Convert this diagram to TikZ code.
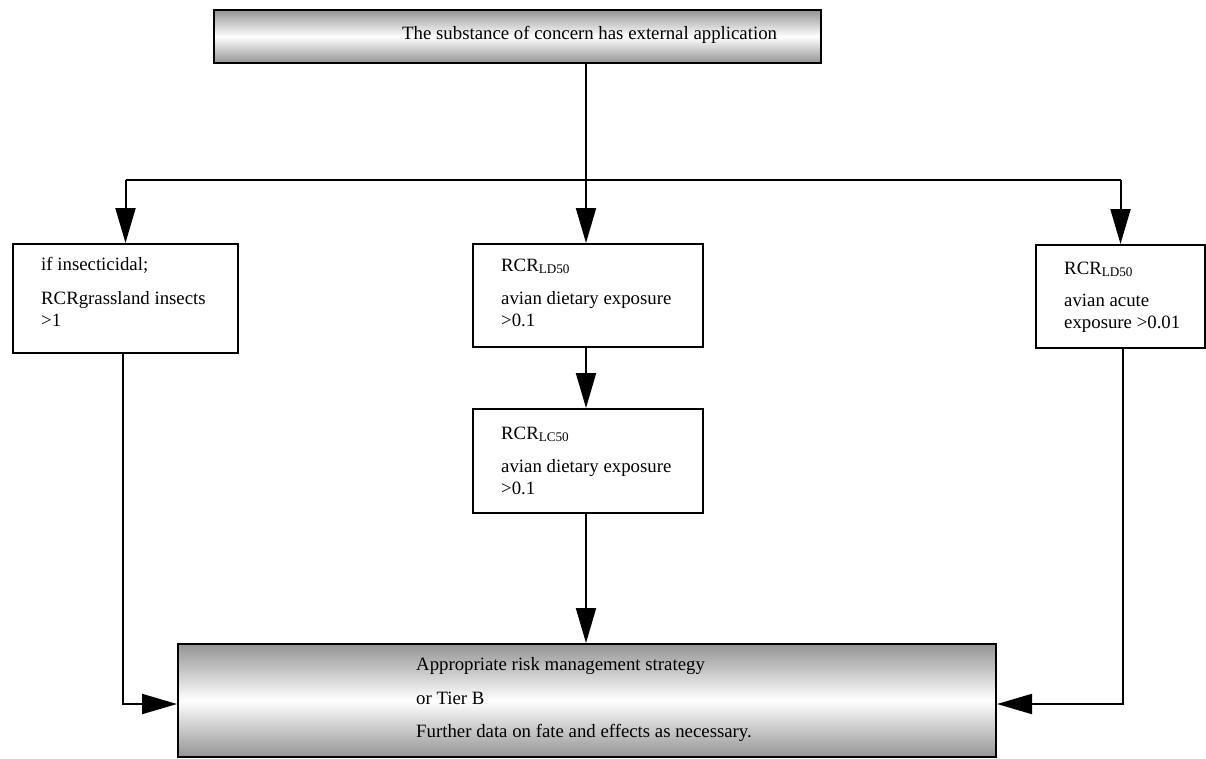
\documentclass[tikz,border=0pt]{standalone}
\usepackage{fontspec}
\setmainfont{Liberation Serif}
\usetikzlibrary{arrows.meta,calc}
\newcommand\dfont{\fontsize{18.8}{22}\selectfont}
\begin{document}
\begin{tikzpicture}[x=1pt,y=-1pt,
  box/.style={draw, line width=2pt, rectangle, inner sep=0pt, anchor=north west},
  shadebox/.style={box, top color=black!42, bottom color=black!42, middle color=white},
  txt/.style={anchor=north west, align=left, inner sep=0pt, font=\dfont},
  arr/.style={line width=2pt, -{Triangle[length=35pt,width=20pt]}},
  ln/.style={line width=2pt}]
\useasboundingbox (0,0) rectangle (1206,758);
% boxes
\node[shadebox, minimum width=607pt, minimum height=53pt] (top) at (213,9) {};
\node[box, minimum width=225pt, minimum height=109pt] (ins) at (12,243) {};
\node[box, minimum width=230pt, minimum height=103pt] (ld) at (472,243) {};
\node[box, minimum width=230pt, minimum height=104pt] (lc) at (472,408) {};
\node[box, minimum width=169pt, minimum height=103pt] (acu) at (1035,244) {};
\node[shadebox, minimum width=818pt, minimum height=113pt] (out) at (177,643) {};
% texts
\node[txt] (topT) at (402,26) {The substance of concern has external application};
\node[txt] (insT) at (41,257.5) {if insecticidal;\\[12pt]RCRgrassland insects\\>1};
\node[txt] (ldT) at (501,258.5) {RCR\textsubscript{LD50}\\[11pt]avian dietary exposure\\>0.1};
\node[txt] (lcT) at (501,426.5) {RCR\textsubscript{LC50}\\[11pt]avian dietary exposure\\>0.1};
\node[txt] (acuT) at (1064,261.5) {RCR\textsubscript{LD50}\\[10pt]avian acute\\exposure >0.01};
\node[txt] (outT) at (416,657.5) {Appropriate risk management strategy\\[12pt]or Tier B\\[11pt]Further data on fate and effects as necessary.};
% connectors
\coordinate (j) at (586,180);
\draw[ln] (top.south -| j) -- (j);
\draw[ln] (ins.north |- j) -- (acu.north |- j);
\draw[arr] (ins.north |- j) -- (ins.north);
\draw[arr] (j) -- (j |- ld.north);
\draw[arr] (acu.north |- j) -- (acu.north);
\draw[arr] (ld.south -| j) -- (lc.north -| j);
\draw[arr] (lc.south -| j) -- (out.north -| j);
\coordinate (lb) at (123,704);
\coordinate (rb) at (1123,704);
\draw[arr] (ins.south -| lb) -- (lb) -- (lb -| out.west);
\draw[arr] (acu.south -| rb) -- (rb) -- (rb -| out.east);
\end{tikzpicture}
\end{document}
